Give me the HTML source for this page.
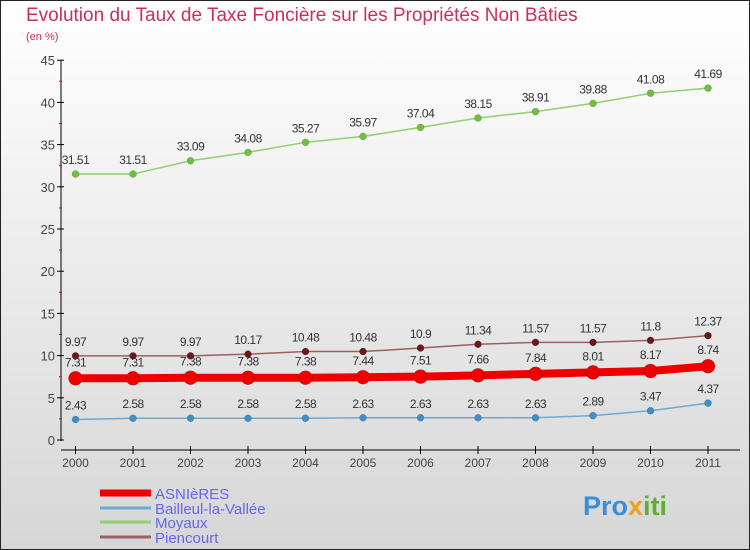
<!DOCTYPE html>
<html><head><meta charset="utf-8"><style>
body{margin:0;width:750px;height:550px;overflow:hidden;font-family:"Liberation Sans",sans-serif}
svg{display:block}
</style></head><body>
<svg id="c" width="750" height="550" xmlns="http://www.w3.org/2000/svg">
<defs><linearGradient id="bg" x1="0" y1="0" x2="0" y2="1"><stop offset="0" stop-color="#ffffff"/><stop offset="1" stop-color="#d6d6d6"/></linearGradient></defs>
<rect x="0.5" y="0.5" width="749" height="549" fill="url(#bg)" stroke="#222"/>
<text x="26" y="21" font-size="19" fill="#c8305a">Evolution du Taux de Taxe Foncière sur les Propriétés Non Bâties</text>
<text x="26" y="40" font-size="11" fill="#c8305a">(en %)</text>
<g id="axes"></g><g id="series"></g><g id="legend"></g>
<text x="583" y="515" font-size="27" font-weight="bold" fill="#3a8fd8">Pro<tspan fill="#f0a020">x</tspan><tspan fill="#60b030">iti</tspan></text>
</svg>
<script>
const years=[2000,2001,2002,2003,2004,2005,2006,2007,2008,2009,2010,2011];
const yTicks=[0,5,10,15,20,25,30,35,40,45];
const asnieres=[7.31,7.31,7.38,7.38,7.38,7.44,7.51,7.66,7.84,8.01,8.17,8.74];
const bailleul=[2.43,2.58,2.58,2.58,2.58,2.63,2.63,2.63,2.63,2.89,3.47,4.37];
const moyaux=[31.51,31.51,33.09,34.08,35.27,35.97,37.04,38.15,38.91,39.88,41.08,41.69];
const piencourt=[9.97,9.97,9.97,10.17,10.48,10.48,10.9,11.34,11.57,11.57,11.8,12.37];
const seriesNames=["ASNIèRES","Bailleul-la-Vallée","Moyaux","Piencourt"];
const NS="http://www.w3.org/2000/svg";
const X=i=>75.5+i*57.5, Y=v=>440-v*8.44;
function mk(t,a,p){const e=document.createElementNS(NS,t);for(const k in a)e.setAttribute(k,a[k]);p.appendChild(e);return e;}
const ax=document.getElementById('axes');
let l=mk('line',{x1:61,y1:60,x2:61,y2:441,stroke:'#000'},ax);


l=mk('line',{x1:61,y1:450,x2:740,y2:450,stroke:'#000'},ax);


yTicks.forEach(v=>{
  mk('line',{x1:57,y1:Y(v),x2:64,y2:Y(v),stroke:'#000'},ax);
  if(v<45) mk('line',{x1:59,y1:Y(v+2.5),x2:62,y2:Y(v+2.5),stroke:'#e00'},ax);
  const t=mk('text',{x:55,y:Y(v)+5,'font-size':13,fill:'#444','text-anchor':'end'},ax);t.textContent=v;
  
  
});
years.forEach((y,i)=>{
  mk('line',{x1:X(i),y1:446,x2:X(i),y2:454,stroke:'#000'},ax);
  const t=mk('text',{x:X(i),y:467,'font-size':12,fill:'#444','text-anchor':'middle'},ax);t.textContent=y;
  
  
});
const sg=document.getElementById('series');
function draw(vals,color,dot,width,r,name,lblOff){
  const g=mk('g',{},sg);
  
  
  mk('polyline',{points:vals.map((v,i)=>X(i)+','+Y(v)).join(' '),fill:'none',stroke:color,'stroke-width':width},g);
  vals.forEach((v,i)=>{
    const c=mk('circle',{cx:X(i),cy:Y(v),r:r,fill:dot,stroke:'rgba(0,0,0,0.25)','stroke-width':0.5},g);
    
    
    const t=mk('text',{x:X(i),y:Y(v)+lblOff,'font-size':12,fill:'#333','text-anchor':'middle','letter-spacing':'-0.5'},g);t.textContent=v;
    
    
  });
}
draw(moyaux,'#90d070','#70c040',1.5,3.5,'series-moyaux',-10);
draw(piencourt,'#9a6060','#6a1818',1.5,3.5,'series-piencourt',-10);
draw(bailleul,'#70a8d0','#4090c8',1.5,3.5,'series-bailleul',-10);
draw(asnieres,'#ee0000','#ee0000',8,7,'series-asnieres',-12);
const lg=document.getElementById('legend');
const lc=['#ee0000','#70a8d0','#90d070','#9a6060'],lw=[7,3,3,3],ly=[493,508,522,537];
seriesNames.forEach((n,i)=>{
  const g=mk('g',{},lg);
  
  
  mk('line',{x1:100,y1:ly[i],x2:151,y2:ly[i],stroke:lc[i],'stroke-width':lw[i]},g);
  const t=mk('text',{x:155,y:ly[i]+6,'font-size':15,fill:'#6666ee'},g);t.textContent=n;
});
</script>
</body></html>
